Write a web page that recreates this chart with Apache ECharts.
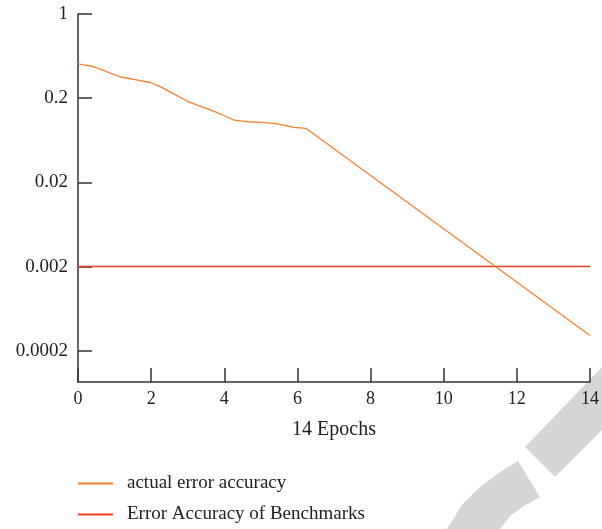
<!DOCTYPE html>
<html>
<head>
<meta charset="utf-8">
<script src="https://cdn.jsdelivr.net/npm/echarts@6/dist/echarts.min.js"></script>
<style>
  html, body { margin: 0; padding: 0; background: #fff; }
  #chart { width: 602px; height: 529px; }
</style>
</head>
<body>
<div id="chart"></div>
<script>
  // values
  var epochs = [0, 0.1, 0.38, 0.75, 1.16, 1.6, 1.98, 2.26, 2.62, 2.98, 3.3, 3.62, 3.95, 4.26, 4.62, 5.0, 5.36, 5.65, 5.9, 6.24, 14];
  var actualError = [0.516, 0.5, 0.482, 0.42, 0.357, 0.33, 0.307, 0.272, 0.225, 0.185, 0.163, 0.145, 0.127, 0.11, 0.105, 0.103, 0.1006, 0.095, 0.09, 0.0873, 0.000303];
  var benchmarkX = [0, 14];
  var benchmarkError = [0.002, 0.002];
  var yTickValues = [0.0002, 0.002, 0.02, 0.2, 2];
  var yTickLabels = ['0.0002', '0.002', '0.02', '0.2', '1'];
  var xTicks = [0, 2, 4, 6, 8, 10, 12, 14];

  var font = 'Liberation Serif';
  var axisColor = '#333';

  var myChart = echarts.init(document.getElementById('chart'));
  myChart.setOption({
      animation: false,
      backgroundColor: '#fff',
      grid: { left: 78, right: 9, top: 14, bottom: 147, containLabel: false },
      legend: {
          orient: 'vertical',
          left: 73,
          top: 469,
          itemWidth: 35,
          itemHeight: 2,
          itemGap: 12,
          icon: 'rect',
          textStyle: { fontFamily: font, fontSize: 19, color: '#222', padding: [0, 0, 0, 9] },
          data: ['actual error accuracy', 'Error Accuracy of Benchmarks']
      },
      xAxis: {
          type: 'value',
          min: 0,
          max: 14,
          interval: 2,
          name: '14 Epochs',
          nameLocation: 'middle',
          nameGap: 38,
          nameTextStyle: { fontFamily: font, fontSize: 20, color: '#222' },
          axisLine: { lineStyle: { color: axisColor, width: 1.5 } },
          axisTick: { inside: true, length: 14, lineStyle: { color: axisColor, width: 1.5 }, customValues: xTicks },
          axisLabel: { fontFamily: font, fontSize: 18, color: '#222', margin: 8, customValues: xTicks },
          splitLine: { show: false }
      },
      yAxis: {
          type: 'log',
          logBase: 10,
          min: 2 * Math.pow(10, -4.372),
          max: 2,
          axisLine: { show: true, lineStyle: { color: axisColor, width: 1.5 } },
          axisTick: { show: true, inside: true, length: 14, lineStyle: { color: axisColor, width: 1.5 }, customValues: yTickValues },
          axisLabel: {
              fontFamily: font, fontSize: 19, color: '#222', margin: 10,
              customValues: yTickValues,
              formatter: function (v) {
                  for (var i = 0; i < yTickValues.length; i++) {
                      if (Math.abs(Math.log10(v) - Math.log10(yTickValues[i])) < 1e-6) return yTickLabels[i];
                  }
                  return '';
              }
          },
          splitLine: { show: false },
          minorTick: { show: false }
      },
      series: [{
          name: 'actual error accuracy',
          type: 'line',
          data: epochs.map(function (x, i) { return [x, actualError[i]]; }),
          showSymbol: false,
          lineStyle: { color: '#f7812f', width: 1.3 },
          itemStyle: { color: '#f7812f' },
          z: 3
      }, {
          name: 'Error Accuracy of Benchmarks',
          type: 'line',
          data: benchmarkX.map(function (x, i) { return [x, benchmarkError[i]]; }),
          showSymbol: false,
          lineStyle: { color: '#f2401e', width: 1.5 },
          itemStyle: { color: '#f2401e' },
          z: 2
      }],
      graphic: [{
          type: 'polygon',
          silent: true,
          z: -1,
          shape: { points: [[525, 447], [555, 477], [602, 430], [602, 367]] },
          style: { fill: '#d6d6d6' }
      }, {
          type: 'polygon',
          silent: true,
          z: -1,
          shape: { points: [[447, 529], [462, 505], [480, 487], [500, 472], [518, 461], [540, 497], [524, 506], [510, 516], [500, 529]] },
          style: { fill: '#d6d6d6' }
      }]
  });
</script>
</body>
</html>
